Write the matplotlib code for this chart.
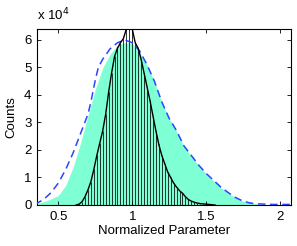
import matplotlib
matplotlib.use("Agg")
import matplotlib.pyplot as plt
from matplotlib.ticker import FuncFormatter

# black histogram (stems + outline), counts in units of 1e4
hist_x = [0.62, 0.64, 0.66, 0.68, 0.70, 0.72, 0.74, 0.76, 0.78, 0.80,
          0.82, 0.84, 0.86, 0.88, 0.90, 0.92, 0.94, 0.96, 0.98, 1.00,
          1.02, 1.04, 1.06, 1.08, 1.10, 1.12, 1.14, 1.16, 1.18, 1.20,
          1.22, 1.24, 1.26, 1.28, 1.30, 1.32, 1.34, 1.36, 1.38, 1.40,
          1.42, 1.44, 1.46, 1.48, 1.50, 1.52, 1.54, 1.56]
hist_y = [0.00, 0.03, 0.12, 0.30, 0.55, 0.85, 1.30, 1.80, 2.25, 2.70,
          3.30, 4.10, 4.80, 5.40, 5.70, 5.90, 6.05, 6.40, 6.45, 6.40,
          5.90, 5.70, 5.30, 4.80, 4.30, 3.80, 3.25, 2.70, 2.20, 1.80,
          1.50, 1.20, 1.00, 0.80, 0.65, 0.52, 0.43, 0.30, 0.20, 0.14,
          0.10, 0.07, 0.05, 0.04, 0.03, 0.02, 0.01, 0.00]

# filled (aquamarine) distribution
fill_x = [0.36, 0.40, 0.45, 0.50, 0.55, 0.60, 0.65, 0.70, 0.75, 0.80,
          0.85, 0.90, 0.95, 1.00, 1.05, 1.10, 1.15, 1.20, 1.25, 1.30,
          1.35, 1.40, 1.45, 1.50, 1.55, 1.60, 1.65, 1.70, 1.75, 1.80,
          1.85, 1.90, 1.95]
fill_y = [0.05, 0.12, 0.22, 0.35, 0.72, 1.38, 2.25, 3.25, 4.20, 4.98,
          5.48, 5.82, 5.90, 5.88, 5.54, 5.08, 4.48, 3.74, 3.14, 2.68,
          2.14, 1.78, 1.44, 1.14, 0.88, 0.64, 0.44, 0.26, 0.14, 0.07,
          0.03, 0.01, 0.00]

# dashed envelope
dash_x = [0.34, 0.40, 0.45, 0.50, 0.55, 0.60, 0.65, 0.70, 0.72, 0.75,
          0.77, 0.80, 0.85, 0.90, 0.95, 1.00, 1.05, 1.10, 1.15, 1.20,
          1.25, 1.30, 1.35, 1.40, 1.45, 1.50, 1.55, 1.60, 1.65, 1.70,
          1.75, 1.80, 1.85, 1.90, 1.95, 2.00, 2.08]
dash_y = [0.02, 0.20, 0.45, 0.80, 1.30, 1.90, 2.60, 3.30, 3.75, 4.55,
          5.00, 5.30, 5.68, 5.90, 6.00, 5.90, 5.60, 5.10, 4.50, 3.75,
          3.15, 2.70, 2.15, 1.80, 1.45, 1.15, 0.90, 0.65, 0.45, 0.27,
          0.14, 0.07, 0.04, 0.03, 0.02, 0.02, 0.02]

scale = 1e4
x_ticks = [0.5, 1, 1.5, 2]
y_ticks = [0, 1, 2, 3, 4, 5, 6]

plt.rcParams['font.family'] = ['Liberation Sans', 'DejaVu Sans']

fig = plt.figure(figsize=(2.97, 2.46), dpi=100)
ax = fig.add_axes([0.1246, 0.1667, 0.8552, 0.7155])

ax.fill_between(fill_x, [v * scale for v in fill_y], 0,
                color='#7fffd4', linewidth=0, zorder=1)
ax.plot(dash_x, [v * scale for v in dash_y], color='#2a45ff',
        linestyle=(0, (5, 3)), linewidth=1.1, zorder=3)
ax.vlines(hist_x, 0, [v * scale for v in hist_y], color='black',
          linewidth=0.55, zorder=2)
ax.plot(hist_x, [v * scale for v in hist_y], color='black',
        linewidth=1.0, zorder=4)

ax.set_xlim(0.355, 2.075)
ax.set_ylim(0, 6.4 * scale)
ax.set_xticks(x_ticks)
ax.set_xticklabels(['0.5', '1', '1.5', '2'])
ax.set_yticks([v * scale for v in y_ticks])
ax.yaxis.set_major_formatter(FuncFormatter(lambda v, p: '%g' % (v / scale)))
ax.tick_params(direction='in', length=3, width=0.6, top=True, right=True,
               labelsize=9.5, pad=4)
for s in ax.spines.values():
    s.set_linewidth(0.8)

ax.text(0.0, 1.03, r'x 10$^4$', transform=ax.transAxes,
        ha='left', va='bottom', fontsize=9.5)
ax.set_xlabel('Normalized Parameter', fontsize=9.5, labelpad=2)
ax.set_ylabel('Counts', fontsize=9.5, labelpad=5)

fig.savefig('out.png', dpi=100)
